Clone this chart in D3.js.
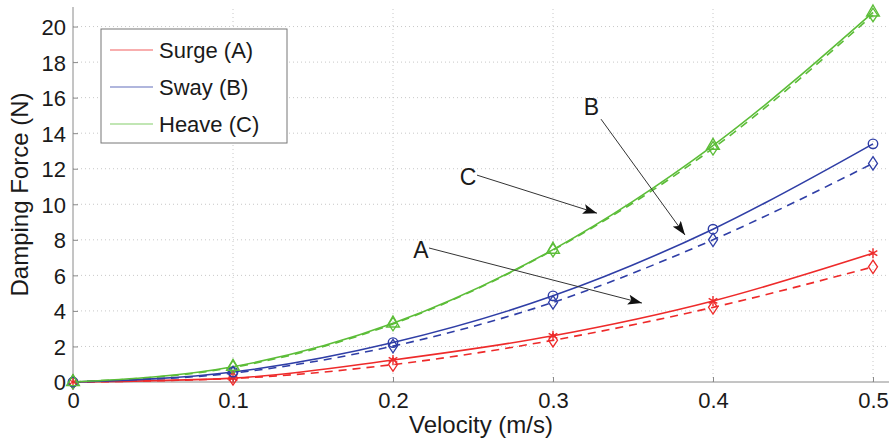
<!DOCTYPE html>
<html>
<head>
<meta charset="utf-8">
<script src="https://cdn.jsdelivr.net/npm/d3@7"></script>
<style>
  html, body { margin: 0; padding: 0; background: #fff; }
  svg { display: block; font-family: "Liberation Sans", Arial, sans-serif; }
</style>
</head>
<body>
<svg id="chart" width="893" height="444"></svg>
<script>
// Damping force vs. velocity for the three motion modes
const velocity = [0, 0.1, 0.2, 0.3, 0.4, 0.5];

const surgeSolid = [0, 0.22, 1.24, 2.6, 4.56, 7.25];
const surgeDashed = [0, 0.2, 0.98, 2.35, 4.2, 6.48];
const swaySolid = [0, 0.56, 2.22, 4.85, 8.6, 13.4];
const swayDashed = [0, 0.5, 2.02, 4.48, 8.0, 12.3];
const heaveSolid = [0, 0.86, 3.3, 7.45, 13.3, 20.8];
const heaveDashed = [0, 0.82, 3.26, 7.42, 13.15, 20.65];

const seriesNames = ["Surge (A)", "Sway (B)", "Heave (C)"];
const seriesColors = ["#ee2a2a", "#2f3ea6", "#5cbd38"];
const solidMarkers = ["star", "circle", "triangle"];

const xTicks = [0, 0.1, 0.2, 0.3, 0.4, 0.5];
const yTicks = [0, 2, 4, 6, 8, 10, 12, 14, 16, 18, 20];

// annotation labels: [text, label x, label y, tail x, tail y, head x, head y] in data units
const annotations = [
  ["A", 0.2175, 7.42, 0.2225, 7.54, 0.3556, 4.44],
  ["C", 0.2469, 11.53, 0.2525, 11.64, 0.3275, 9.5],
  ["B", 0.324, 15.47, 0.33, 14.79, 0.3825, 8.27]
];

const svg = d3.select("#chart");
const margin = { left: 73, top: 7, right: 4, bottom: 62 };
const W = 893, H = 444;

const x = d3.scaleLinear().domain([0, 0.51]).range([margin.left, W - margin.right]);
const y = d3.scaleLinear().domain([0, 21.1]).range([H - margin.bottom, margin.top]);

const axisColor = "#8a8a8a";
const textColor = "#1a1a1a";

// dotted grid
const grid = svg.append("g");
grid.selectAll("line.gx").data(xTicks.filter(d => d > 0)).join("line")
  .attr("x1", d => x(d)).attr("x2", d => x(d))
  .attr("y1", y.range()[0]).attr("y2", y.range()[1])
  .attr("stroke", "#c8c8c8").attr("stroke-width", 1).attr("stroke-dasharray", "1,3");
grid.selectAll("line.gy").data(yTicks.filter(d => d > 0)).join("line")
  .attr("y1", d => y(d)).attr("y2", d => y(d))
  .attr("x1", x.range()[0]).attr("x2", x.range()[1])
  .attr("stroke", "#c8c8c8").attr("stroke-width", 1).attr("stroke-dasharray", "1,3");

// axes with inward ticks
const xAxis = svg.append("g")
  .attr("transform", `translate(0,${y(0)})`)
  .call(d3.axisTop(x).tickValues(xTicks).tickFormat(d => d === 0 ? "0" : d3.format(".1f")(d)).tickSize(5).tickPadding(0));
xAxis.select(".domain").attr("d", `M${x.range()[0]},0H${x.range()[1]}`).attr("stroke", axisColor);
xAxis.selectAll(".tick line").attr("stroke", axisColor);
xAxis.selectAll(".tick text")
  .attr("y", 26).attr("dy", null)
  .attr("fill", textColor).attr("font-size", 22)
  .attr("font-family", "Liberation Sans, Arial, sans-serif");

const yAxis = svg.append("g")
  .attr("transform", `translate(${x(0)},0)`)
  .call(d3.axisRight(y).tickValues(yTicks).tickSize(5).tickPadding(0));
yAxis.select(".domain").attr("d", `M0,${y.range()[0]}V${y.range()[1]}`).attr("stroke", axisColor);
yAxis.selectAll(".tick line").attr("stroke", axisColor);
yAxis.selectAll(".tick text")
  .attr("x", -7).attr("text-anchor", "end").attr("dy", "0.36em")
  .attr("fill", textColor).attr("font-size", 22)
  .attr("font-family", "Liberation Sans, Arial, sans-serif");

// axis titles
svg.append("text")
  .attr("x", (x.range()[0] + x.range()[1]) / 2).attr("y", 433)
  .attr("text-anchor", "middle").attr("font-size", 24).attr("fill", textColor)
  .text("Velocity (m/s)");
svg.append("text")
  .attr("transform", `translate(28,${(y.range()[0] + y.range()[1]) / 2}) rotate(-90)`)
  .attr("text-anchor", "middle").attr("font-size", 24).attr("fill", textColor)
  .text("Damping Force (N)");

// curves
const solids = [surgeSolid, swaySolid, heaveSolid];
const dashes = [surgeDashed, swayDashed, heaveDashed];
const line = d3.line().x(d => x(d[0])).y(d => y(d[1])).curve(d3.curveMonotoneX);

const plot = svg.append("g");
dashes.forEach((vals, i) => {
  plot.append("path")
    .datum(velocity.map((v, k) => [v, vals[k]]))
    .attr("d", line).attr("fill", "none")
    .attr("stroke", seriesColors[i]).attr("stroke-width", 1.6)
    .attr("stroke-dasharray", "8,6");
});
solids.forEach((vals, i) => {
  plot.append("path")
    .datum(velocity.map((v, k) => [v, vals[k]]))
    .attr("d", line).attr("fill", "none")
    .attr("stroke", seriesColors[i]).attr("stroke-width", 1.6);
});

// markers
const symbolFor = {
  circle: d3.symbol().type(d3.symbolCircle).size(70),
  triangle: d3.symbol().type(d3.symbolTriangle).size(70),
  star: d3.symbol().type(d3.symbolAsterisk).size(70),
  diamond: d3.symbol().type(d3.symbolDiamond2).size(80)
};
function drawMarkers(vals, shape, color) {
  plot.append("g").selectAll("path").data(velocity.map((v, k) => [v, vals[k]])).join("path")
    .attr("transform", d => `translate(${x(d[0])},${y(d[1])})${shape === "diamond" ? " scale(0.8,1.2)" : ""}`)
    .attr("d", symbolFor[shape]())
    .attr("fill", "none").attr("stroke", color).attr("stroke-width", 1.4);
}
dashes.forEach((vals, i) => drawMarkers(vals, "diamond", seriesColors[i]));
solids.forEach((vals, i) => drawMarkers(vals, solidMarkers[i], seriesColors[i]));

// annotation arrows
const defs = svg.append("defs");
defs.append("marker")
  .attr("id", "head").attr("viewBox", "0 0 14 10")
  .attr("refX", 14).attr("refY", 5)
  .attr("markerWidth", 14).attr("markerHeight", 10)
  .attr("markerUnits", "userSpaceOnUse").attr("orient", "auto")
  .append("path").attr("d", "M0,0L14,5L0,10L3,5Z").attr("fill", "#111");

annotations.forEach(a => {
  svg.append("line")
    .attr("x1", x(a[3])).attr("y1", y(a[4]))
    .attr("x2", x(a[5])).attr("y2", y(a[6]))
    .attr("stroke", "#333").attr("stroke-width", 1)
    .attr("marker-end", "url(#head)");
  svg.append("text")
    .attr("x", x(a[1])).attr("y", y(a[2])).attr("dy", "0.36em")
    .attr("text-anchor", "middle").attr("font-size", 23).attr("fill", textColor)
    .text(a[0]);
});

// legend
const legend = svg.append("g");
legend.append("rect")
  .attr("x", 101).attr("y", 29).attr("width", 186).attr("height", 114)
  .attr("fill", "#fff").attr("stroke", "#777").attr("stroke-width", 1);
seriesNames.forEach((name, i) => {
  const ly = 50 + i * 37;
  legend.append("line")
    .attr("x1", 110).attr("x2", 153).attr("y1", ly).attr("y2", ly)
    .attr("stroke", seriesColors[i]).attr("stroke-width", 1.2).attr("opacity", 0.75);
  legend.append("text")
    .attr("x", 159).attr("y", ly).attr("dy", "0.36em")
    .attr("font-size", 22).attr("fill", textColor)
    .text(name);
});
</script>
</body>
</html>
